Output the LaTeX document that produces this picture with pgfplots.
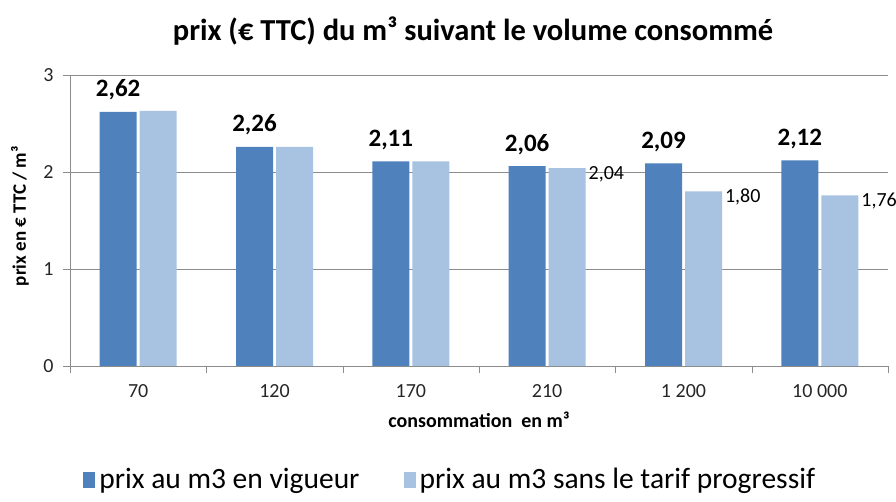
\documentclass[border=0pt]{standalone}
\usepackage{pgfplots}
\pgfplotsset{compat=1.18}
\usepackage{fontspec}
\setmainfont{Carlito}
\definecolor{darkblue}{HTML}{4F81BD}
\definecolor{lightblue}{HTML}{A8C2E2}
\definecolor{gridgray}{HTML}{8C8C8C}
\begin{document}
\begin{tikzpicture}
\path[use as bounding box] (0pt,0pt) rectangle (896pt,502pt);
\node[font=\fontsize{30.5}{33}\selectfont\bfseries] at (473pt,471pt) {prix (€ TTC) du m³ suivant le volume consommé};
\begin{axis}[
  at={(70pt,136pt)}, anchor=south west,
  scale only axis, width=818pt, height=291pt,
  ybar=3pt, bar width=37pt,
  xmin=-0.5, xmax=5.5, ymin=0, ymax=3,
  ytick={0,1,2,3},
  xtick={0,...,5},
  xticklabels={70,120,170,210,1 200,10 000},
  minor xtick={-0.5,0.5,...,5.5},
  major x tick style={draw=none},
  minor x tick style={gridgray},
  minor tick length=7pt,
  major tick length=7pt,
  tick align=outside,
  y tick style={gridgray},
  axis lines*=left,
  axis line style={gridgray, thick},
  ymajorgrids, grid style={gridgray, thick},
  tick label style={font=\fontsize{20}{22}\selectfont, text=black!85},
  xticklabel style={yshift=-8pt},
  yticklabel style={xshift=-6pt},
  /pgf/number format/assume math mode=true,
  xlabel={consommation\ \ en m³},
  xlabel style={font=\fontsize{20}{22}\selectfont\bfseries, at={(axis description cs:0.5,-0.186)}, anchor=center},
  ylabel={prix en € TTC / m³},
  ylabel style={font=\fontsize{19}{21}\selectfont\bfseries, at={(axis description cs:-0.061,0.515)}, anchor=center},
  legend columns=2,
  legend style={draw=none, at={(axis description cs:0.466,-0.39)}, anchor=center,
    font=\fontsize{29.5}{32}\selectfont, /tikz/every even column/.append style={column sep=40pt},
    nodes={inner xsep=4pt, inner ysep=1pt}},
  legend image code/.code={\fill[#1] (0pt,-9pt) rectangle (12pt,7pt);},
  point meta=explicit symbolic,
  nodes near coords={\pgfplotspointmeta},
]
\addplot[fill=darkblue, draw=none,
  every node near coord/.append style={font=\fontsize{25}{27}\selectfont\bfseries, yshift=8pt}]
  coordinates {(0,2.62) [{2,62}] (1,2.26) [{2,26}] (2,2.11) [{2,11}] (3,2.06) [{2,06}] (4,2.09) [{2,09}] (5,2.12) [{2,12}]};
\addlegendentry{prix au m3 en vigueur}
\addplot[fill=lightblue, draw=none,
  every node near coord/.append style={font=\fontsize{20}{22}\selectfont, anchor=west, xshift=18pt, yshift=-6pt}]
  coordinates {(0,2.63) [{}] (1,2.26) [{}] (2,2.11) [{}] (3,2.04) [{2,04}] (4,1.80) [{1,80}] (5,1.76) [{1,76}]};
\addlegendentry{prix au m3 sans le tarif progressif}
\end{axis}
\end{tikzpicture}
\end{document}
